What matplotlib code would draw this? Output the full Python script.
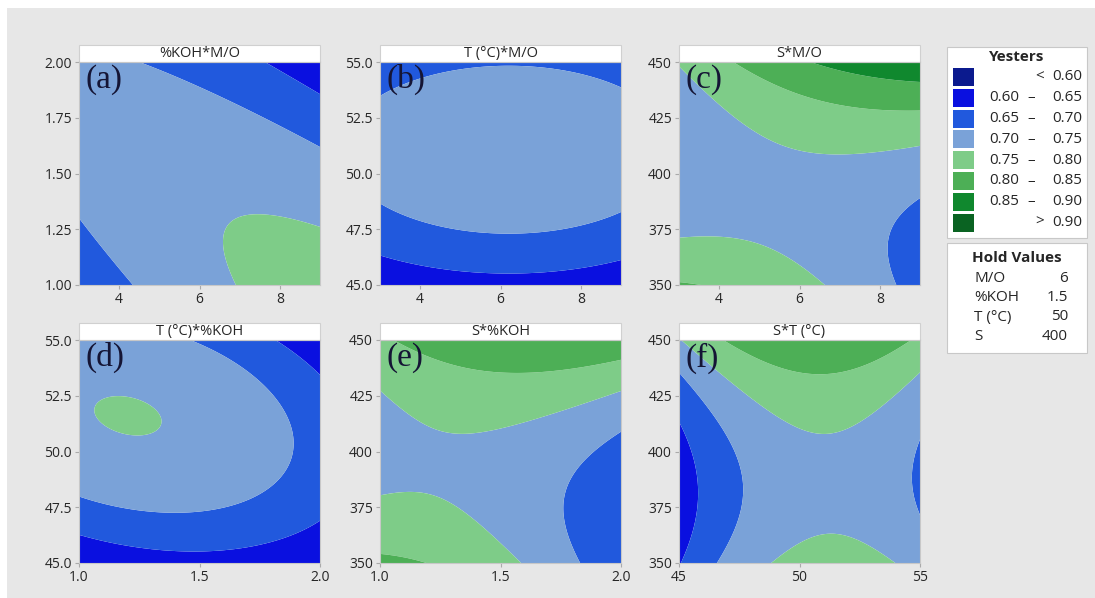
import numpy as np
import matplotlib.pyplot as plt
from matplotlib.patches import Rectangle

plt.rcParams['font.family'] = ['Open Sans', 'DejaVu Sans']

# factors of the response surface (M/O, %KOH, T, S)
factor_names = ['M/O', '%KOH', 'T (°C)', 'S']
factor_low = [3.0, 1.0, 45.0, 350.0]
factor_high = [9.0, 2.0, 55.0, 450.0]
hold_labels = ['M/O', '%KOH', 'T (°C)', 'S']
hold_text = ['6', '1.5', '50', '400']

# quadratic model for Yesters in coded units (-1..1)
b0 = 0.739
b_lin = [0.003, -0.027, 0.032, 0.040]
b_sq = [-0.022, -0.030, -0.075, 0.065]
b_int = {(0, 1): -0.050, (0, 2): 0.000, (0, 3): 0.065,
         (1, 2): -0.027, (1, 3): 0.050, (2, 3): -0.010}

# panels: (x factor, y factor)
panels = [(0, 1), (0, 2), (0, 3), (1, 2), (1, 3), (2, 3)]
panel_titles = ['%KOH*M/O', 'T (°C)*M/O', 'S*M/O', 'T (°C)*%KOH', 'S*%KOH', 'S*T (°C)']
panel_tags = ['(a)', '(b)', '(c)', '(d)', '(e)', '(f)']
ticks = {0: [4, 6, 8], 1: [1.0, 1.5, 2.0], 2: [45, 50, 55], 3: [350, 375, 400, 425, 450]}
yticks = {1: [1.00, 1.25, 1.50, 1.75, 2.00], 2: [45.0, 47.5, 50.0, 52.5, 55.0],
          3: [350, 375, 400, 425, 450]}
ytick_fmt = {1: '{:.2f}', 2: '{:.1f}', 3: '{:.0f}'}
xtick_fmt = {0: '{:.0f}', 1: '{:.1f}', 2: '{:.0f}'}

levels = [0.0, 0.60, 0.65, 0.70, 0.75, 0.80, 0.85, 0.90, 2.0]
level_labels = [('', '< 0.60'), ('0.60', '0.65'), ('0.65', '0.70'), ('0.70', '0.75'),
                ('0.75', '0.80'), ('0.80', '0.85'), ('0.85', '0.90'), ('', '> 0.90')]
colors = ['#0b1a8e', '#0a10e0', '#2159dd', '#7aa2d8', '#7ecc88', '#4daf56', '#10882e', '#0a6322']


def model(u):
    z = b0
    for i in range(4):
        z = z + b_lin[i] * u[i] + b_sq[i] * u[i] ** 2
    for (i, j), b in b_int.items():
        z = z + b * u[i] * u[j]
    return z


W, H = 1095, 598
fig = plt.figure(figsize=(W / 100, H / 100), dpi=100, facecolor='#e7e7e7')
fig.patches.append(Rectangle((0, 1 - 8 / H), 1, 8 / H, transform=fig.transFigure,
                             facecolor='white', edgecolor='none'))
fig.patches.append(Rectangle((0, 0), 7 / W, 1, transform=fig.transFigure,
                             facecolor='white', edgecolor='none'))

lefts = [79, 380, 679]
tops = [62, 340]
aw, ah = 241, 223
txt = '#262626'

g = np.linspace(-1, 1, 301)
for k, (fx, fy) in enumerate(panels):
    r, c = divmod(k, 3)
    ax = fig.add_axes([lefts[c] / W, 1 - (tops[r] + ah) / H, aw / W, ah / H])
    U, V = np.meshgrid(g, g)
    u = [np.zeros_like(U) for _ in range(4)]
    u[fx] = U
    u[fy] = V
    Z = model(u)
    xs = factor_low[fx] + (g + 1) / 2 * (factor_high[fx] - factor_low[fx])
    ys = factor_low[fy] + (g + 1) / 2 * (factor_high[fy] - factor_low[fy])
    ax.contourf(xs, ys, Z, levels=levels, colors=colors, antialiased=True)
    ax.set_xlim(factor_low[fx], factor_high[fx])
    ax.set_ylim(factor_low[fy], factor_high[fy])
    ax.set_xticks(ticks[fx])
    ax.set_xticklabels([xtick_fmt[fx].format(t) for t in ticks[fx]])
    ax.set_yticks(yticks[fy])
    ax.set_yticklabels([ytick_fmt[fy].format(t) for t in yticks[fy]])
    ax.tick_params(direction='out', length=3, width=0.8, color='#aaaaaa',
                   labelsize=10, labelcolor=txt, pad=2)
    for s in ax.spines.values():
        s.set_color('#c8c8c8')
    # title strip
    ax.add_patch(Rectangle((0, 1), 1, 17 / ah, transform=ax.transAxes, clip_on=False,
                           facecolor='white', edgecolor='#d0d0d0', lw=0.8))
    ax.text(0.5, 1 + 8.5 / ah, panel_titles[k], transform=ax.transAxes,
            ha='center', va='center', fontsize=10.5, color=txt)
    ax.text(0.025, 0.99, panel_tags[k], transform=ax.transAxes, ha='left', va='top',
            fontsize=24, color='#151535', family='Liberation Serif')


def fx_(x):
    return x / W


def fy_(y):
    return 1 - y / H


fs = 11
# legend box
fig.patches.append(Rectangle((fx_(947), fy_(238)), 140 / W, 191 / H, transform=fig.transFigure,
                             facecolor='white', edgecolor='#c8c8c8', lw=0.8))
fig.text(fx_(1017), fy_(57), 'Yesters', ha='center', va='center', fontsize=fs,
         fontweight='bold', color=txt)
for i, (lo, hi) in enumerate(level_labels):
    yc = 77 + i * 20.8
    fig.patches.append(Rectangle((fx_(953), fy_(yc + 9)), 21 / W, 18 / H,
                                 transform=fig.transFigure, facecolor=colors[i], edgecolor='none'))
    if lo:
        fig.text(fx_(1019), fy_(yc), lo, ha='right', va='center', fontsize=fs, color=txt)
        fig.text(fx_(1031), fy_(yc), '–', ha='center', va='center', fontsize=fs, color=txt)
        fig.text(fx_(1082), fy_(yc), hi, ha='right', va='center', fontsize=fs, color=txt)
    else:
        sym, val = hi.split(' ')
        fig.text(fx_(1044), fy_(yc), sym, ha='right', va='center', fontsize=fs, color=txt)
        fig.text(fx_(1082), fy_(yc), val, ha='right', va='center', fontsize=fs, color=txt)

# hold values box
fig.patches.append(Rectangle((fx_(947), fy_(353)), 140 / W, 110 / H, transform=fig.transFigure,
                             facecolor='white', edgecolor='#c8c8c8', lw=0.8))
fig.text(fx_(1017), fy_(258), 'Hold Values', ha='center', va='center', fontsize=fs,
         fontweight='bold', color=txt)
for i, (lab, val) in enumerate(zip(hold_labels, hold_text)):
    yc = 278 + i * 19.5
    fig.text(fx_(974), fy_(yc), lab, ha='left', va='center', fontsize=fs, color=txt)
    fig.text(fx_(1068), fy_(yc), val, ha='right', va='center', fontsize=fs, color=txt)

fig.savefig('out.png', dpi=100, facecolor=fig.get_facecolor())
